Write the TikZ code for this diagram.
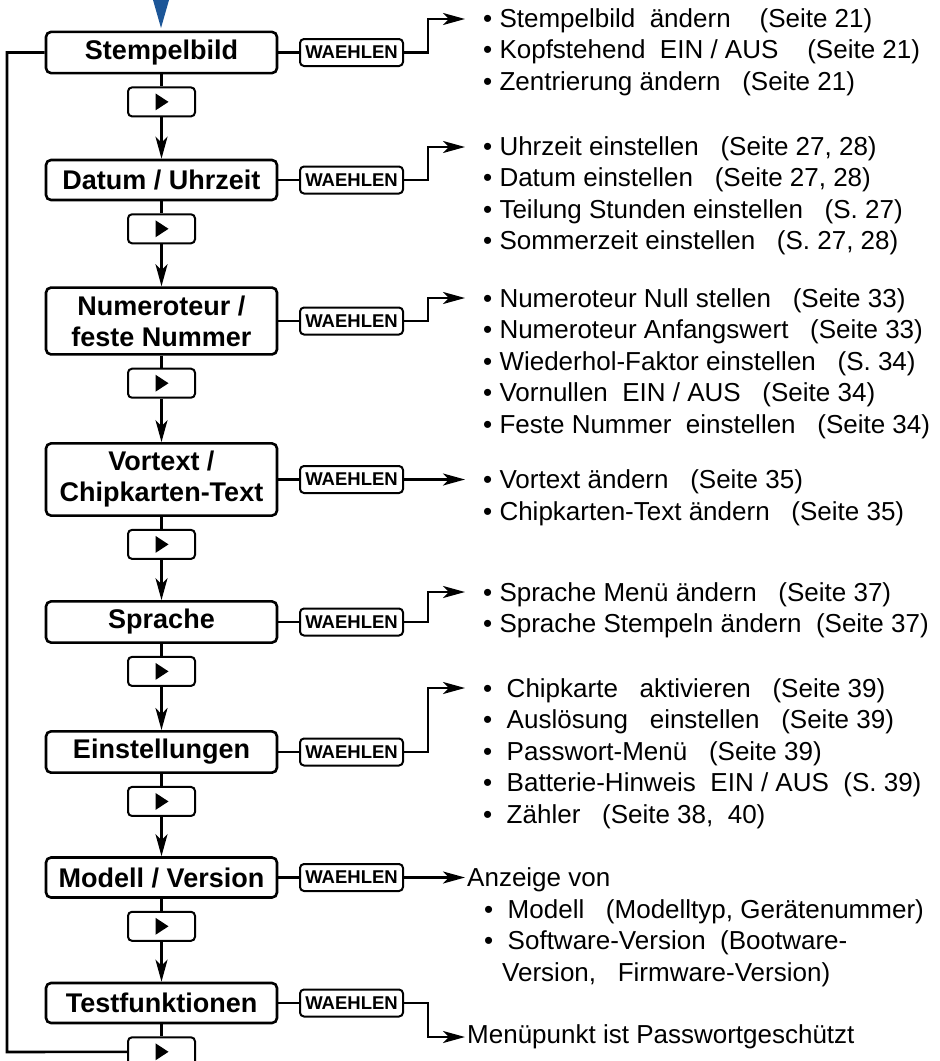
\documentclass[tikz,border=0pt]{standalone}
\usepackage{fontspec}
\setmainfont{Liberation Sans}
\usetikzlibrary{positioning, arrows.meta, calc}
\definecolor{startblue}{RGB}{28, 86, 152}

\begin{document}
\begin{tikzpicture}[x=1pt, y=-1pt,
    menu/.style={draw, line width=2.6pt, rounded corners=5pt, minimum width=231pt, minimum height=40pt, inner ysep=8pt, align=center, font=\fontsize{27}{31}\selectfont\bfseries},
    play/.style={draw, line width=2pt, rounded corners=4pt, minimum width=67pt, minimum height=29pt, inner sep=0pt},
    waehlen/.style={draw, line width=2pt, rounded corners=4pt, minimum width=103pt, minimum height=27pt, inner sep=0pt, font=\fontsize{18.5}{18.5}\selectfont\bfseries},
    link/.style={line width=2.6pt},
    flow/.style={line width=2.6pt, -{Stealth[length=22pt, width=12pt, inset=6pt]}},
    info/.style={anchor=north west, inner sep=0pt, align=left, font=\fontsize{26}{31.5}\selectfont}]
    \useasboundingbox (0,0) rectangle (940,1061);

    % Start marker
    \fill[startblue] (153,0) -- (169,0) -- (161,28) -- cycle;

    % Menu entries
    \foreach \id/\y/\txt in {stempel/52.5/Stempelbild, datum/180/{Datum / Uhrzeit},
        numer/321/{Numeroteur /\\feste Nummer}, vortext/479.5/{Vortext /\\Chipkarten-Text},
        sprache/622/Sprache, einst/752/Einstellungen, modell/877.5/{Modell / Version},
        test/1003/Testfunktionen} {
        \node[menu] (\id) at (161.5,\y) {\txt};
        \node[play, below=12pt of \id] (p\id) {};
        \fill ($(p\id.center)+(-6,-8.5)$) -- ++(13,8.5) -- ++(-13,8.5) -- cycle;
        \node[waehlen] (w\id) at (351.5,\y) {WAEHLEN};
        \draw[link] (\id) -- (w\id);
        \draw[link] (\id) -- (p\id);
    }

    % Next entry
    \foreach \a/\b in {stempel/datum, datum/numer, numer/vortext, vortext/sprache,
        sprache/einst, einst/modell, modell/test} {
        \draw[flow] (p\a) -- (\b);
    }

    % Back to the top
    \coordinate (loopTop) at (7,52.5);
    \coordinate (loopBot) at (7,1052);
    \draw[link] (stempel.west) -- (loopTop) -- (loopBot) -- (ptest.west);

    % Sub menus
    \node[info] (txStempel) at (483,8) {• Stempelbild\ \ ändern\ \ \ \ (Seite 21)\\
        • Kopfstehend\ \ EIN / AUS\ \ \ \ (Seite 21)\\
        • Zentrierung ändern\ \ \ (Seite 21)};
    \node[info] (txDatum) at (483,136) {• Uhrzeit einstellen\ \ \ (Seite 27, 28)\\
        • Datum einstellen\ \ \ (Seite 27, 28)\\
        • Teilung Stunden einstellen\ \ \ (S. 27)\\
        • Sommerzeit einstellen\ \ \ (S. 27, 28)};
    \node[info] (txNumer) at (483,288) {• Numeroteur Null stellen\ \ \ (Seite 33)\\
        • Numeroteur Anfangswert\ \ \ (Seite 33)\\
        • Wiederhol-Faktor einstellen\ \ \ (S. 34)\\
        • Vornullen\ \ EIN / AUS\ \ \ (Seite 34)\\
        • Feste Nummer\ \ einstellen\ \ \ (Seite 34)};
    \node[info] (txVortext) at (483,469.5) {• Vortext ändern\ \ \ (Seite 35)\\
        • Chipkarten-Text ändern\ \ \ (Seite 35)};
    \node[info] (txSprache) at (483,582) {• Sprache Menü ändern\ \ \ (Seite 37)\\
        • Sprache Stempeln ändern\ \ (Seite 37)};
    \node[info] (txEinst) at (483,678) {•\ \ Chipkarte\ \ \ aktivieren\ \ \ (Seite 39)\\
        •\ \ Auslösung\ \ \ einstellen\ \ \ (Seite 39)\\
        •\ \ Passwort-Menü\ \ \ (Seite 39)\\
        •\ \ Batterie-Hinweis\ \ EIN / AUS\ \ (S. 39)\\
        •\ \ Zähler\ \ \ (Seite 38,\ \ 40)};
    \node[info] (txModell) at (467,867.5) {Anzeige von\\
        \hspace*{17pt}•\ \ Modell\ \ \ (Modelltyp, Gerätenummer)\\
        \hspace*{17pt}•\ \ Software-Version\ \ (Bootware-\\
        \hspace*{35pt}Version,\ \ \ Firmware-Version)};
    \node[info, anchor=west] (txTest) at (467,1037) {Menüpunkt ist Passwortgeschützt};

    % Arrows to the sub menus
    \coordinate (tStempel) at (465,19);
    \coordinate (tDatum) at (465,147);
    \coordinate (tNumer) at (465,298);
    \coordinate (tSprache) at (465,592);
    \coordinate (tEinst) at (465,688);
    \coordinate (tTest) at (465,1037);
    \coordinate (tVortext) at (465,479.5);
    \coordinate (tModell) at (465,877.5);
    \draw[flow] (wstempel.east) -- ++(24,0) |- (tStempel);
    \draw[flow] (wdatum.east) -- ++(24,0) |- (tDatum);
    \draw[flow] (wnumer.east) -- ++(24,0) |- (tNumer);
    \draw[flow] (wvortext.east) -- (tVortext);
    \draw[flow] (wsprache.east) -- ++(24,0) |- (tSprache);
    \draw[flow] (weinst.east) -- ++(24,0) |- (tEinst);
    \draw[flow] (wmodell.east) -- (tModell);
    \draw[flow] (wtest.east) -- ++(24,0) |- (tTest);
\end{tikzpicture}
\end{document}
